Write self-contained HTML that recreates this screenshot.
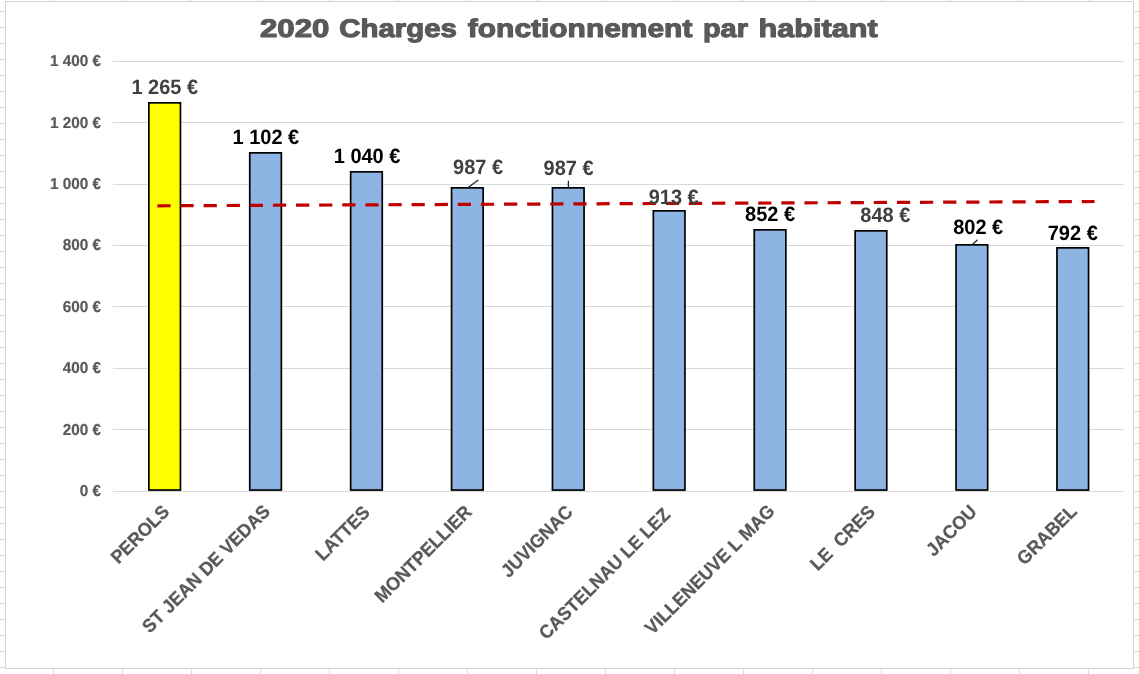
<!DOCTYPE html>
<html><head><meta charset="utf-8"><style>html,body{margin:0;padding:0;background:#fff}svg{display:block;will-change:transform}text{font-family:"Liberation Sans",sans-serif;font-weight:bold;text-rendering:geometricPrecision}</style></head><body>
<svg width="1139" height="674" viewBox="0 0 1139 674">
<rect width="1139" height="674" fill="#fff"/>
<path d="M0 11.5H1139 M0 27.5H1139 M0 43.5H1139 M0 59.5H1139 M0 75.5H1139 M0 91.5H1139 M0 107.5H1139 M0 123.5H1139 M0 139.5H1139 M0 155.5H1139 M0 171.5H1139 M0 187.5H1139 M0 203.5H1139 M0 219.5H1139 M0 235.5H1139 M0 251.5H1139 M0 267.5H1139 M0 283.5H1139 M0 299.5H1139 M0 315.5H1139 M0 331.5H1139 M0 347.5H1139 M0 363.5H1139 M0 379.5H1139 M0 395.5H1139 M0 411.5H1139 M0 427.5H1139 M0 443.5H1139 M0 459.5H1139 M0 475.5H1139 M0 491.5H1139 M0 507.5H1139 M0 523.5H1139 M0 539.5H1139 M0 555.5H1139 M0 571.5H1139 M0 587.5H1139 M0 603.5H1139 M0 619.5H1139 M0 635.5H1139 M0 651.5H1139 M0 667.5H1139 M53.5 0V674 M122.5 0V674 M191.5 0V674 M260.5 0V674 M329.5 0V674 M398.5 0V674 M467.5 0V674 M536.5 0V674 M605.5 0V674 M674.5 0V674 M743.5 0V674 M812.5 0V674 M881.5 0V674 M950.5 0V674 M1019.5 0V674 M1088.5 0V674" stroke="#d9d9d9" stroke-width="1" fill="none"/>
<rect x="5.5" y="1.5" width="1128" height="667" fill="#fff" stroke="#d3d3d3" stroke-width="1"/>
<text x="259.96" y="37" font-size="25.5" textLength="69.47" lengthAdjust="spacingAndGlyphs" fill="#595959" stroke="#595959" stroke-width="1.1" stroke-linejoin="round">2020</text>
<text x="339.28" y="37" font-size="25.5" textLength="117.66" lengthAdjust="spacingAndGlyphs" fill="#595959" stroke="#595959" stroke-width="1.1" stroke-linejoin="round">Charges</text>
<text x="467.85" y="37" font-size="25.5" textLength="224.52" lengthAdjust="spacingAndGlyphs" fill="#595959" stroke="#595959" stroke-width="1.1" stroke-linejoin="round">fonctionnement</text>
<text x="702.92" y="37" font-size="25.5" textLength="45.01" lengthAdjust="spacingAndGlyphs" fill="#595959" stroke="#595959" stroke-width="1.1" stroke-linejoin="round">par</text>
<text x="758.60" y="37" font-size="25.5" textLength="119.02" lengthAdjust="spacingAndGlyphs" fill="#595959" stroke="#595959" stroke-width="1.1" stroke-linejoin="round">habitant</text>
<path d="M113 491.5H1124 M113 429.5H1124 M113 368.5H1124 M113 306.5H1124 M113 245.5H1124 M113 184.5H1124 M113 122.5H1124 M113 61.5H1124" stroke="#d9d9d9" stroke-width="1" fill="none"/>
<text transform="translate(101.0 496.1) scale(0.968 1)" font-size="15.8" text-anchor="end" fill="#595959" stroke="#595959" stroke-width="0.2">0 €</text>
<text transform="translate(101.0 434.7) scale(0.968 1)" font-size="15.8" text-anchor="end" fill="#595959" stroke="#595959" stroke-width="0.2">200 €</text>
<text transform="translate(101.0 373.2) scale(0.968 1)" font-size="15.8" text-anchor="end" fill="#595959" stroke="#595959" stroke-width="0.2">400 €</text>
<text transform="translate(101.0 311.8) scale(0.968 1)" font-size="15.8" text-anchor="end" fill="#595959" stroke="#595959" stroke-width="0.2">600 €</text>
<text transform="translate(101.0 250.4) scale(0.968 1)" font-size="15.8" text-anchor="end" fill="#595959" stroke="#595959" stroke-width="0.2">800 €</text>
<text transform="translate(101.0 189.0) scale(0.968 1)" font-size="15.8" text-anchor="end" fill="#595959" stroke="#595959" stroke-width="0.2">1 000 €</text>
<text transform="translate(101.0 127.5) scale(0.968 1)" font-size="15.8" text-anchor="end" fill="#595959" stroke="#595959" stroke-width="0.2">1 200 €</text>
<text transform="translate(101.0 66.1) scale(0.968 1)" font-size="15.8" text-anchor="end" fill="#595959" stroke="#595959" stroke-width="0.2">1 400 €</text>
<rect x="148.85" y="102.85" width="31.60" height="387.20" fill="#ffff00" stroke="#000" stroke-width="1.7"/>
<rect x="249.75" y="152.85" width="31.60" height="337.20" fill="#8eb4e3" stroke="#000" stroke-width="1.7"/>
<rect x="350.65" y="171.85" width="31.60" height="318.20" fill="#8eb4e3" stroke="#000" stroke-width="1.7"/>
<rect x="451.55" y="187.85" width="31.60" height="302.20" fill="#8eb4e3" stroke="#000" stroke-width="1.7"/>
<rect x="552.45" y="187.85" width="31.60" height="302.20" fill="#8eb4e3" stroke="#000" stroke-width="1.7"/>
<rect x="653.35" y="210.85" width="31.60" height="279.20" fill="#8eb4e3" stroke="#000" stroke-width="1.7"/>
<rect x="754.25" y="229.85" width="31.60" height="260.20" fill="#8eb4e3" stroke="#000" stroke-width="1.7"/>
<rect x="855.15" y="230.85" width="31.60" height="259.20" fill="#8eb4e3" stroke="#000" stroke-width="1.7"/>
<rect x="956.05" y="244.85" width="31.60" height="245.20" fill="#8eb4e3" stroke="#000" stroke-width="1.7"/>
<rect x="1056.95" y="247.85" width="31.60" height="242.20" fill="#8eb4e3" stroke="#000" stroke-width="1.7"/>
<path d="M157.4 205.8L1094.6 201.5" stroke="#c00000" stroke-width="3.2" stroke-dasharray="13.2 9.91" fill="none"/>
<path d="M478.3 179.9L467.8 187.8M568.4 180.7V187.8M977.5 239.8L971.9 245" stroke="#262626" stroke-width="1.3" fill="none"/>
<text transform="translate(164.75 94.00) scale(0.961 1)" font-size="20.8" text-anchor="middle" fill="#404040">1 265 €</text>
<text transform="translate(265.85 143.80) scale(0.961 1)" font-size="20.8" text-anchor="middle" fill="#000">1 102 €</text>
<text transform="translate(367.05 163.00) scale(0.961 1)" font-size="20.8" text-anchor="middle" fill="#000">1 040 €</text>
<text transform="translate(478.10 174.10) scale(0.961 1)" font-size="20.8" text-anchor="middle" fill="#404040">987 €</text>
<text transform="translate(568.55 174.90) scale(0.961 1)" font-size="20.8" text-anchor="middle" fill="#404040">987 €</text>
<text transform="translate(673.70 203.60) scale(0.961 1)" font-size="20.8" text-anchor="middle" fill="#404040">913 €</text>
<text transform="translate(770.05 221.00) scale(0.961 1)" font-size="20.8" text-anchor="middle" fill="#000">852 €</text>
<text transform="translate(885.30 221.70) scale(0.961 1)" font-size="20.8" text-anchor="middle" fill="#404040">848 €</text>
<text transform="translate(978.20 234.00) scale(0.961 1)" font-size="20.8" text-anchor="middle" fill="#000">802 €</text>
<text transform="translate(1072.75 239.90) scale(0.961 1)" font-size="20.8" text-anchor="middle" fill="#000">792 €</text>
<text transform="translate(170.35 512.90) rotate(-45) scale(0.992 1.04)" font-size="18.0" text-anchor="end" fill="#595959" stroke="#595959" stroke-width="0.25" xml:space="preserve">PEROLS</text>
<text transform="translate(271.20 512.50) rotate(-45) scale(0.992 1.04)" font-size="18.0" text-anchor="end" fill="#595959" stroke="#595959" stroke-width="0.25" xml:space="preserve">ST JEAN DE VEDAS</text>
<text transform="translate(371.05 513.60) rotate(-45) scale(0.992 1.04)" font-size="18.0" text-anchor="end" fill="#595959" stroke="#595959" stroke-width="0.25" xml:space="preserve">LATTES</text>
<text transform="translate(472.80 513.15) rotate(-45) scale(0.992 1.04)" font-size="18.0" text-anchor="end" fill="#595959" stroke="#595959" stroke-width="0.25" xml:space="preserve">MONTPELLIER</text>
<text transform="translate(573.90 513.15) rotate(-45) scale(0.992 1.04)" font-size="18.0" text-anchor="end" fill="#595959" stroke="#595959" stroke-width="0.25" xml:space="preserve">JUVIGNAC</text>
<text transform="translate(671.45 515.75) rotate(-45) scale(0.992 1.04)" font-size="18.0" text-anchor="end" fill="#595959" stroke="#595959" stroke-width="0.25" xml:space="preserve">CASTELNAU LE LEZ</text>
<text transform="translate(775.85 512.20) rotate(-45) scale(0.992 1.04)" font-size="18.0" text-anchor="end" fill="#595959" stroke="#595959" stroke-width="0.25" xml:space="preserve">VILLENEUVE L MAG</text>
<text transform="translate(876.10 513.20) rotate(-45) scale(0.992 1.04)" font-size="18.0" text-anchor="end" fill="#595959" stroke="#595959" stroke-width="0.25" xml:space="preserve">LE  CRES</text>
<text transform="translate(977.90 512.95) rotate(-45) scale(0.992 1.04)" font-size="18.0" text-anchor="end" fill="#595959" stroke="#595959" stroke-width="0.25" xml:space="preserve">JACOU</text>
<text transform="translate(1077.90 512.60) rotate(-45) scale(0.992 1.04)" font-size="18.0" text-anchor="end" fill="#595959" stroke="#595959" stroke-width="0.25" xml:space="preserve">GRABEL</text>
</svg></body></html>
